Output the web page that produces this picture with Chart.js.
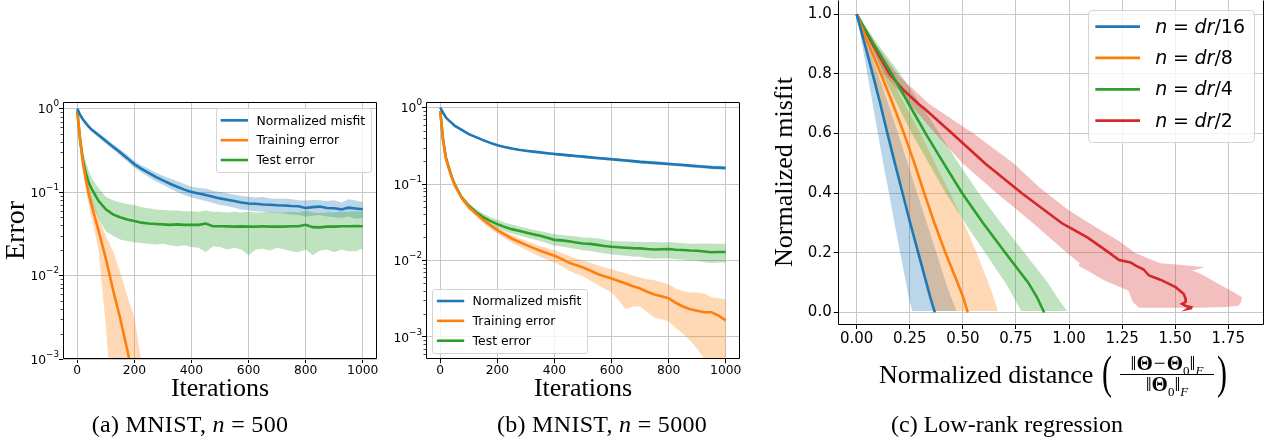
<!DOCTYPE html>
<html><head><meta charset="utf-8">
<script src="https://cdn.jsdelivr.net/npm/chart.js@4.4.1/dist/chart.umd.min.js"></script>
<style>
html,body{margin:0;padding:0;background:#fff;}
body{width:1269px;height:444px;position:relative;overflow:hidden;}
canvas{position:absolute;left:0;top:0;}
.ser{position:absolute;font-family:"Liberation Serif",serif;color:#000;white-space:nowrap;}
.cap{font-size:24px;line-height:24px;text-align:center;width:340px;top:412px;}
.frac{font-size:21px;line-height:21px;text-align:center;width:110px;}
.frac sub{font-size:13px;}
.par{font-size:30px;line-height:30px;transform:scale(1,1.58);transform-origin:50% 50%;}
</style></head>
<body>
<canvas id="ca" width="1269" height="444"></canvas>
<canvas id="cb" width="1269" height="444"></canvas>
<canvas id="cc" width="1269" height="444"></canvas>

<div class="ser" style="left:684px;top:158.7px;width:200px;text-align:center;font-size:26px;line-height:26px;transform:rotate(-90deg);transform-origin:50% 50%;">Normalized misfit</div>
<div class="ser" style="left:879px;top:361.5px;font-size:26px;line-height:26px;">Normalized distance</div>
<div class="ser par" style="left:1102px;top:357px;">(</div>
<div class="ser par" style="left:1217px;top:357px;">)</div>
<div class="ser frac" style="left:1112px;top:353px;">‖<b>Θ</b><span style="margin:0 1px">−</span><b>Θ</b><sub>0</sub>‖<sub><i>F</i></sub></div>
<div class="ser" style="left:1120px;top:374px;width:94px;height:0;border-top:1px solid #000;"></div>
<div class="ser frac" style="left:1112px;top:374px;">‖<b>Θ</b><sub>0</sub>‖<sub><i>F</i></sub></div>

<div class="ser cap" style="left:20px;letter-spacing:0.3px;">(a) MNIST, <i>n</i> = 500</div>
<div class="ser cap" style="left:432px;letter-spacing:0.3px;">(b) MNIST, <i>n</i> = 5000</div>
<div class="ser cap" style="left:837px;">(c) Low-rank regression</div>

<script>
// ---------------- DATA ----------------
const iterations = [0,10,20,30,40,50,75,100,125,150,175,200,225,250,275,300,325,350,375,400,425,450,475,500,525,550,575,600,625,650,675,700,725,750,775,800,825,850,875,900,925,950,975,1000];
const errorTicks = [1e-3,1e-2,1e-1,1];
const iterTicks = [0,200,400,600,800,1000];
const seriesNamesAB = ['Normalized misfit','Training error','Test error'];

// (a) MNIST, n = 500
const aMisfit   = [1.0,0.84,0.74,0.67,0.61,0.56, 0.48,0.41,0.35,0.30,0.255,0.215,0.19,0.17,0.152,0.138,0.126,0.116,0.107,0.100,0.096,0.092,0.088,0.084,0.081,0.078,0.075,0.073,0.0725,0.071,0.0705,0.0695,0.069,0.068,0.0675,0.0645,0.066,0.067,0.0645,0.064,0.062,0.065,0.0635,0.0622];
const aMisfitHi = [1.0,0.87,0.77,0.70,0.64,0.59, 0.51,0.44,0.375,0.325,0.28,0.235,0.21,0.19,0.172,0.157,0.145,0.136,0.125,0.116,0.112,0.110,0.104,0.100,0.097,0.093,0.090,0.088,0.086,0.087,0.084,0.083,0.084,0.082,0.080,0.079,0.081,0.080,0.078,0.080,0.075,0.082,0.079,0.076];
const aMisfitLo = [1.0,0.81,0.71,0.64,0.58,0.53, 0.45,0.38,0.325,0.275,0.232,0.195,0.172,0.152,0.135,0.122,0.110,0.100,0.092,0.086,0.082,0.078,0.074,0.070,0.068,0.065,0.062,0.060,0.059,0.058,0.057,0.056,0.055,0.054,0.053,0.051,0.052,0.053,0.051,0.050,0.049,0.051,0.048,0.049];
const aTrain    = [0.94,0.42,0.22,0.14,0.095,0.07,0.034,0.016,0.0068,0.0031,0.0013,0.0005,0.0002,0.00008];
const aTrainHi  = [0.96,0.47,0.26,0.17,0.12,0.088,0.05,0.03,0.02,0.011,0.0057,0.0032,0.0009,0.0002];
const aTrainLo  = [0.90,0.37,0.18,0.11,0.072,0.05,0.02,0.0025,0.0002,0.00008,0.00005,0.00003,0.00002,0.00001];
const aTest     = [0.94,0.42,0.24,0.17,0.13,0.11, 0.078,0.062,0.054,0.050,0.047,0.045,0.043,0.042,0.0415,0.041,0.0405,0.041,0.0405,0.0405,0.0405,0.042,0.039,0.039,0.0388,0.0385,0.0388,0.0385,0.0385,0.039,0.0385,0.0385,0.0385,0.039,0.039,0.0405,0.038,0.0378,0.0385,0.0385,0.039,0.039,0.0392,0.039];
const aTestHi   = [0.96,0.50,0.31,0.23,0.18,0.15, 0.11,0.088,0.080,0.075,0.072,0.070,0.066,0.064,0.062,0.061,0.060,0.060,0.059,0.059,0.058,0.060,0.058,0.058,0.057,0.058,0.057,0.058,0.057,0.057,0.058,0.057,0.057,0.058,0.057,0.060,0.057,0.056,0.057,0.057,0.058,0.058,0.059,0.058];
const aTestLo   = [0.92,0.33,0.19,0.13,0.095,0.075, 0.048,0.034,0.030,0.027,0.026,0.025,0.0245,0.024,0.0235,0.024,0.023,0.0225,0.023,0.022,0.0215,0.019,0.0225,0.022,0.0205,0.0215,0.0205,0.0175,0.0205,0.021,0.020,0.0215,0.0205,0.0195,0.019,0.0205,0.0175,0.020,0.0205,0.019,0.0205,0.0195,0.0195,0.021];

// (b) MNIST, n = 5000
const bMisfit   = [1.0,0.85,0.74,0.68,0.63,0.58, 0.51,0.45,0.41,0.375,0.345,0.322,0.305,0.292,0.281,0.272,0.265,0.259,0.253,0.247,0.242,0.237,0.232,0.228,0.223,0.219,0.215,0.211,0.207,0.203,0.199,0.195,0.192,0.189,0.186,0.183,0.180,0.177,0.174,0.171,0.168,0.165,0.164,0.162];
const bMisfitHi = [1.0,0.87,0.76,0.70,0.65,0.60, 0.525,0.465,0.423,0.387,0.356,0.332,0.315,0.301,0.29,0.281,0.274,0.268,0.262,0.256,0.251,0.246,0.241,0.237,0.232,0.228,0.224,0.22,0.216,0.212,0.208,0.204,0.201,0.198,0.195,0.192,0.189,0.186,0.183,0.18,0.177,0.174,0.173,0.171];
const bMisfitLo = [1.0,0.83,0.72,0.66,0.61,0.56, 0.495,0.435,0.397,0.363,0.334,0.312,0.295,0.283,0.272,0.263,0.256,0.25,0.244,0.238,0.233,0.228,0.223,0.219,0.214,0.21,0.206,0.202,0.198,0.194,0.19,0.186,0.183,0.18,0.177,0.174,0.171,0.168,0.165,0.162,0.159,0.156,0.155,0.153];
const bTrain    = [0.9,0.37,0.215,0.16,0.123,0.098, 0.066,0.05,0.041,0.034,0.029,0.025,0.022,0.0194,0.0176,0.016,0.0146,0.0134,0.0124,0.0115,0.0105,0.0094,0.0087,0.0081,0.0074,0.0067,0.0062,0.0058,0.0054,0.005,0.0046,0.0043,0.0039,0.0036,0.0034,0.0032,0.0028,0.0025,0.0023,0.0022,0.0021,0.0021,0.0019,0.00165];
const bTrainHi  = [0.92,0.4,0.235,0.175,0.133,0.105, 0.07,0.053,0.043,0.036,0.0312,0.0272,0.024,0.0215,0.0197,0.0181,0.0167,0.0155,0.0145,0.0136,0.0126,0.0115,0.0107,0.01,0.0093,0.0087,0.0081,0.0077,0.0072,0.0068,0.0063,0.006,0.0057,0.0055,0.0052,0.0049,0.0043,0.004,0.0038,0.0038,0.0037,0.0033,0.0032,0.0031];
const bTrainLo  = [0.88,0.34,0.195,0.145,0.112,0.09, 0.061,0.046,0.038,0.031,0.026,0.0225,0.0196,0.017,0.0152,0.0138,0.0124,0.0112,0.0102,0.0094,0.0084,0.0074,0.0067,0.0062,0.0055,0.0048,0.0043,0.0038,0.003,0.0023,0.0025,0.0025,0.0021,0.0018,0.0017,0.0016,0.0013,0.0011,0.0009,0.0007,0.00052,0.0004,0.0003,0.0002];
const bTest     = [0.9,0.37,0.22,0.165,0.125,0.1, 0.067,0.052,0.043,0.037,0.033,0.0299,0.0275,0.0257,0.0245,0.0232,0.022,0.021,0.0198,0.0186,0.0183,0.0178,0.0172,0.0167,0.0165,0.016,0.0155,0.0151,0.0149,0.0147,0.0145,0.0144,0.0141,0.0139,0.014,0.0141,0.0138,0.0137,0.0135,0.0134,0.0131,0.0128,0.0129,0.0129];
const bTestHi   = [0.92,0.4,0.24,0.18,0.135,0.108, 0.072,0.056,0.047,0.041,0.037,0.034,0.0315,0.0295,0.028,0.0265,0.0252,0.0243,0.023,0.022,0.0215,0.021,0.0207,0.02,0.0198,0.0195,0.0188,0.018,0.0178,0.0177,0.0176,0.0175,0.0173,0.0174,0.0172,0.0175,0.017,0.0168,0.0166,0.0165,0.0167,0.0166,0.0165,0.0165];
const bTestLo   = [0.88,0.34,0.2,0.15,0.115,0.092, 0.062,0.048,0.039,0.0335,0.0295,0.0265,0.0243,0.0225,0.0213,0.0201,0.019,0.018,0.0168,0.0156,0.0152,0.0147,0.0141,0.0136,0.0133,0.0128,0.0124,0.012,0.0118,0.0115,0.0113,0.0112,0.0108,0.0105,0.0106,0.0107,0.0104,0.0103,0.01,0.0099,0.0095,0.0093,0.0094,0.0094];

// (c) Low-rank regression
const distTicks = [0,0.25,0.5,0.75,1.0,1.25,1.5,1.75];
const misfitTicks = [0,0.2,0.4,0.6,0.8,1.0];
const misfitLevels = [1.0,0.9,0.8,0.7,0.6,0.5,0.4,0.3,0.2,0.1,0.05,0.0];
const dist16 = [0,0.038,0.075,0.111,0.145,0.18,0.216,0.252,0.29,0.328,0.347,0.368];
const dist8  = [0,0.055,0.114,0.17,0.223,0.272,0.318,0.366,0.418,0.475,0.502,0.523];
const dist4  = [0,0.08,0.165,0.245,0.325,0.41,0.497,0.595,0.7,0.808,0.85,0.883];
const bandLevels = [1.0,0.9,0.8,0.7,0.6,0.5,0.4,0.3,0.2,0.1,0.05,0.005];
const lo16 = [0,0.025,0.05,0.075,0.1,0.125,0.152,0.178,0.205,0.232,0.245,0.262];
const hi16 = [0,0.05,0.1,0.148,0.195,0.24,0.285,0.33,0.375,0.42,0.445,0.47];
const lo8  = [0,0.04,0.08,0.115,0.15,0.185,0.22,0.258,0.295,0.335,0.352,0.372];
const hi8  = [0,0.075,0.15,0.225,0.3,0.37,0.44,0.505,0.565,0.62,0.645,0.665];
const lo4  = [0,0.06,0.12,0.19,0.26,0.34,0.42,0.51,0.605,0.7,0.74,0.775];
const hi4  = [0,0.1,0.205,0.3,0.39,0.48,0.575,0.68,0.79,0.9,0.945,0.99];
const misfit2 = [1.0,0.9,0.8,0.75,0.7,0.68,0.6,0.5,0.4,0.3,0.286,0.25,0.2,0.176,0.168,0.157,0.145,0.124,0.11,0.085,0.063,0.045,0.035,0.029,0.022,0.018,0.012,0.015];
const dist2   = [0,0.075,0.155,0.215,0.29,0.325,0.45,0.605,0.778,0.965,1.0,1.09,1.19,1.236,1.29,1.314,1.35,1.377,1.43,1.502,1.54,1.55,1.549,1.533,1.55,1.573,1.56,1.58];
const hiLevels2 = [1.0,0.9,0.8,0.7,0.6,0.5,0.42,0.342,0.28,0.24,0.2,0.185,0.165,0.16,0.152,0.141,0.13,0.11,0.09,0.07,0.051,0.035,0.023,0.018,0.016];
const hi2       = [0,0.09,0.19,0.34,0.55,0.74,0.86,1.0,1.14,1.236,1.31,1.36,1.43,1.52,1.64,1.58,1.62,1.67,1.72,1.77,1.815,1.81,1.8,1.74,1.6];
const loLevels2 = [0.016,0.035,0.073,0.11,0.135,0.157,0.165,0.2,0.25,0.3,0.4,0.5,0.6,0.7,0.8,0.9,1.0];
const lo2       = [1.33,1.30,1.28,1.16,1.10,1.045,1.05,0.99,0.91,0.83,0.66,0.5,0.37,0.25,0.13,0.065,0];
const legendC = [
  [{t:'n',i:1},{t:'='},{t:'dr',i:1},{t:'/16'}],
  [{t:'n',i:1},{t:'='},{t:'dr',i:1},{t:'/8'}],
  [{t:'n',i:1},{t:'='},{t:'dr',i:1},{t:'/4'}],
  [{t:'n',i:1},{t:'='},{t:'dr',i:1},{t:'/2'}]
];

// ---------------- STYLE ----------------
const C = {blue:'#1f77b4', orange:'#ff7f0e', green:'#2ca02c', red:'#d62728'};
const A = {blue:'rgba(31,119,180,0.3)', orange:'rgba(255,127,14,0.3)', green:'rgba(44,160,44,0.3)', red:'rgba(214,39,40,0.3)'};
const GRID = '#c8c8c8';
Chart.defaults.font.family = 'DejaVu Sans';
Chart.defaults.color = '#000';
Chart.defaults.animation = false;
Chart.defaults.events = [];
Chart.defaults.plugins.legend.display = false;
Chart.defaults.plugins.tooltip.enabled = false;

const xy = (xs, ys) => ys.map((y,i)=>({x:xs[i], y}));
const yx = (ys, xs) => xs.map((x,i)=>({x, y:ys[i]}));
function bandX(xs, hi, lo){ return xy(xs, hi).concat(xy(xs, lo).reverse()); }
function bandY(levelsHi, hi, levelsLo, lo){ return yx(levelsHi, hi).concat(yx(levelsLo, lo)); }
const lineDS = (data, color) => ({data, borderColor:color, borderWidth:2.6, pointRadius:0, fill:false, tension:0});
const bandDS = (data, color) => ({data, borderColor:'rgba(0,0,0,0)', borderWidth:0, backgroundColor:color, pointRadius:0, fill:'shape', tension:0});
const noPad = s => { s.paddingLeft = 0; s.paddingRight = 0; s.paddingTop = 0; s.paddingBottom = 0; };

// frame, log tick labels, minor ticks, legend
const decorPlugin = {
  id:'decor',
  afterDatasetsDraw(chart, args, o){
    const {ctx, chartArea:a} = chart;
    ctx.save();
    ctx.strokeStyle = '#000'; ctx.lineWidth = 1;
    const L = Math.round(a.left)+0.5, R = Math.round(a.right)-0.5, T = Math.round(a.top)+0.5, B = Math.round(a.bottom)-0.5;
    ctx.beginPath();
    if (o.noTop){ ctx.moveTo(L,T); ctx.lineTo(L,B); ctx.lineTo(R,B); ctx.lineTo(R,T); }
    else ctx.rect(L, T, R-L, B-T);
    ctx.stroke();
    if (o.logLabels){
      const ys = chart.scales.y;
      ctx.fillStyle = '#000';
      ctx.textBaseline = 'middle'; ctx.textAlign = 'right';
      for (const v of errorTicks){
        if (v < ys.min || v > ys.max) continue;
        const p = ys.getPixelForValue(v);
        const e = Math.round(Math.log10(v));
        const es = (e < 0 ? '\u2212' : '') + Math.abs(e);
        const xr = a.left - 4;
        ctx.font = '8.8px "DejaVu Sans"';
        const we = ctx.measureText(es).width;
        ctx.fillText(es, xr, p - 4.5);
        ctx.font = '12.3px "DejaVu Sans"';
        ctx.fillText('10', xr - we, p + 1.5);
      }
    }
    if (o.minor){
      const ys = chart.scales.y;
      ctx.lineWidth = 0.7;
      for (let e=-4; e<=0; e++) for (let m=2; m<=9; m++){
        const v = m*Math.pow(10,e);
        if (v < ys.min || v > ys.max) continue;
        const p = Math.round(ys.getPixelForValue(v))+0.5;
        ctx.beginPath(); ctx.moveTo(a.left-2.5,p); ctx.lineTo(a.left,p); ctx.stroke();
      }
    }
    if (o.legend) drawLegend(chart, o.legend);
    ctx.restore();
  }
};
function drawLegend(chart, lg){
  const {ctx, chartArea:a} = chart;
  const fs = lg.fs;
  const font = (it) => (it?'oblique ':'') + fs + 'px "DejaVu Sans"';
  const eqPad = 0.3*fs;
  const measure = (parts) => {
    if (typeof parts === 'string'){ ctx.font = font(0); return ctx.measureText(parts).width; }
    let w = 0; for (const p of parts){ ctx.font = font(p.i); w += ctx.measureText(p.t).width; if (p.t==='=') w += 2*eqPad; }
    return w;
  };
  const tw = Math.max(...lg.items.map(it=>measure(it.label)));
  const padL = 0.38*fs, hl = lg.hl*fs, gap = lg.gap*fs, padR = lg.padR*fs;
  const w = padL + hl + gap + tw + padR;
  const h = lg.top*fs + (lg.items.length-1)*lg.sp*fs + lg.bot*fs;
  const bap = 0.5*fs;
  let x0, y0;
  if (lg.loc === 'ur'){ x0 = a.right - bap - w; y0 = a.top + bap; }
  else { x0 = a.left + bap; y0 = a.bottom - bap - h; }
  ctx.save();
  ctx.beginPath();
  ctx.roundRect(Math.round(x0)+0.5, Math.round(y0)+0.5, Math.round(w), Math.round(h), 0.2*fs);
  ctx.fillStyle = 'rgba(255,255,255,0.8)'; ctx.fill();
  ctx.strokeStyle = '#d4d4d4'; ctx.lineWidth = 1; ctx.stroke();
  lg.items.forEach((it, i) => {
    const yc = y0 + lg.top*fs + i*lg.sp*fs;
    ctx.strokeStyle = it.color; ctx.lineWidth = lg.lw; ctx.lineCap = 'butt';
    ctx.beginPath(); ctx.moveTo(x0+padL, yc); ctx.lineTo(x0+padL+hl, yc); ctx.stroke();
    ctx.fillStyle = '#000'; ctx.textBaseline = 'middle'; ctx.textAlign = 'left';
    let tx = x0 + padL + hl + gap;
    if (typeof it.label === 'string'){ ctx.font = font(0); ctx.fillText(it.label, tx, yc+1); }
    else for (const p of it.label){
      if (p.t==='=') tx += eqPad;
      ctx.font = font(p.i); ctx.fillText(p.t, tx, yc+1); tx += ctx.measureText(p.t).width;
      if (p.t==='=') tx += eqPad;
    }
  });
  ctx.restore();
}

function logErrorAxis(min, max, width, title){
  return {
    type:'logarithmic', position:'left', min, max,
    afterBuildTicks: s => { s.ticks = errorTicks.map(v=>({value:v})); },
    afterFit: s => { s.width = width; noPad(s); },
    ticks:{display:false, autoSkip:false},
    grid:{color:GRID, lineWidth:1, drawTicks:true, tickLength:4, tickColor:'#000', tickWidth:1},
    border:{display:false},
    title: title ? {display:true, text:title, font:{family:'Liberation Serif', size:28}, padding:0, color:'#000'} : {display:false}
  };
}
function iterAxis(height){
  return {
    type:'linear', position:'bottom', min:-50, max:1050,
    afterBuildTicks: s => { s.ticks = iterTicks.map(v=>({value:v})); },
    afterFit: s => { s.height = height; noPad(s); },
    ticks:{font:{size:12.3}, padding:0, autoSkip:false, maxRotation:0, color:'#000', callback: v => String(v)},
    grid:{color:GRID, lineWidth:1, drawTicks:true, tickLength:4, tickColor:'#000', tickWidth:1},
    border:{display:false},
    title:{display:true, text:'Iterations', font:{family:'Liberation Serif', size:26}, padding:0, color:'#000'}
  };
}
const legendAB = (loc) => ({loc, fs:12.4, hl:2.2, gap:0.68, padR:0.45, top:0.98, sp:1.6, bot:1.0, lw:2.6,
  items:[{label:seriesNamesAB[0], color:C.blue},{label:seriesNamesAB[1], color:C.orange},{label:seriesNamesAB[2], color:C.green}]});

// ---------------- (a) ----------------
new Chart(document.getElementById('ca'), {
  type:'line',
  data:{datasets:[
    lineDS(xy(iterations, aMisfit), C.blue),
    lineDS(xy(iterations, aTrain), C.orange),
    lineDS(xy(iterations, aTest), C.green),
    bandDS(bandX(iterations, aTestHi, aTestLo), A.green),
    bandDS(bandX(iterations, aTrainHi, aTrainLo), A.orange),
    bandDS(bandX(iterations, aMisfitHi, aMisfitLo), A.blue)
  ]},
  options:{
    responsive:false, devicePixelRatio:1,
    layout:{padding:{left:0, right:892, top:102, bottom:39.4}},
    scales:{ x: iterAxis(45.6), y: logErrorAxis(1e-3, 1.2, 63, 'Error') },
    plugins:{ decor:{minor:true, logLabels:true, legend:legendAB('ur')} }
  },
  plugins:[decorPlugin]
});

// ---------------- (b) ----------------
new Chart(document.getElementById('cb'), {
  type:'line',
  data:{datasets:[
    lineDS(xy(iterations, bMisfit), C.blue),
    lineDS(xy(iterations, bTrain), C.orange),
    lineDS(xy(iterations, bTest), C.green),
    bandDS(bandX(iterations, bTestHi, bTestLo), A.green),
    bandDS(bandX(iterations, bTrainHi, bTrainLo), A.orange),
    bandDS(bandX(iterations, bMisfitHi, bMisfitLo), A.blue)
  ]},
  options:{
    responsive:false, devicePixelRatio:1,
    layout:{padding:{left:386, right:529, top:101.5, bottom:39.4}},
    scales:{ x: iterAxis(45.3), y: logErrorAxis(5.1e-4, 1.2, 40, null) },
    plugins:{ decor:{minor:true, logLabels:true, legend:legendAB('ll')} }
  },
  plugins:[decorPlugin]
});

// ---------------- (c) ----------------
new Chart(document.getElementById('cc'), {
  type:'line',
  data:{datasets:[
    lineDS(yx(misfitLevels, dist16), C.blue),
    lineDS(yx(misfitLevels, dist8), C.orange),
    lineDS(yx(misfitLevels, dist4), C.green),
    lineDS(yx(misfit2, dist2), C.red),
    bandDS(bandY(hiLevels2, hi2, loLevels2, lo2), A.red),
    bandDS(bandY(bandLevels, hi4, bandLevels.slice().reverse(), lo4.slice().reverse()), A.green),
    bandDS(bandY(bandLevels, hi8, bandLevels.slice().reverse(), lo8.slice().reverse()), A.orange),
    bandDS(bandY(bandLevels, hi16, bandLevels.slice().reverse(), lo16.slice().reverse()), A.blue)
  ]},
  options:{
    responsive:false, devicePixelRatio:1,
    layout:{padding:{left:771.4, right:5, top:0, bottom:89}},
    scales:{
      x:{type:'linear', position:'bottom', min:-0.0895, max:1.9185,
        afterBuildTicks: s => { s.ticks = distTicks.map(v=>({value:v})); },
        afterFit: s => { s.height = 30; noPad(s); },
        ticks:{font:{size:15}, padding:1, autoSkip:false, maxRotation:0, color:'#000', callback: v => v.toFixed(2)},
        grid:{color:GRID, lineWidth:1, drawTicks:true, tickLength:4, tickColor:'#000', tickWidth:1},
        border:{display:false}},
      y:{type:'linear', position:'left', min:-0.042, max:1.048,
        afterBuildTicks: s => { s.ticks = misfitTicks.map(v=>({value:v})); },
        afterFit: s => { s.width = 66.3; noPad(s); },
        ticks:{font:{size:15}, padding:2, autoSkip:false, color:'#000', callback: v => v.toFixed(1)},
        grid:{color:GRID, lineWidth:1, drawTicks:true, tickLength:4, tickColor:'#000', tickWidth:1},
        border:{display:false}}
    },
    plugins:{ decor:{noTop:true, legend:{loc:'ur', fs:19, hl:2.35, gap:0.8, padR:0.5, top:0.9, sp:1.65, bot:1.09, lw:2.8,
      items:[{label:legendC[0], color:C.blue},{label:legendC[1], color:C.orange},{label:legendC[2], color:C.green},{label:legendC[3], color:C.red}]}} }
  },
  plugins:[decorPlugin]
});
</script>
</body></html>
